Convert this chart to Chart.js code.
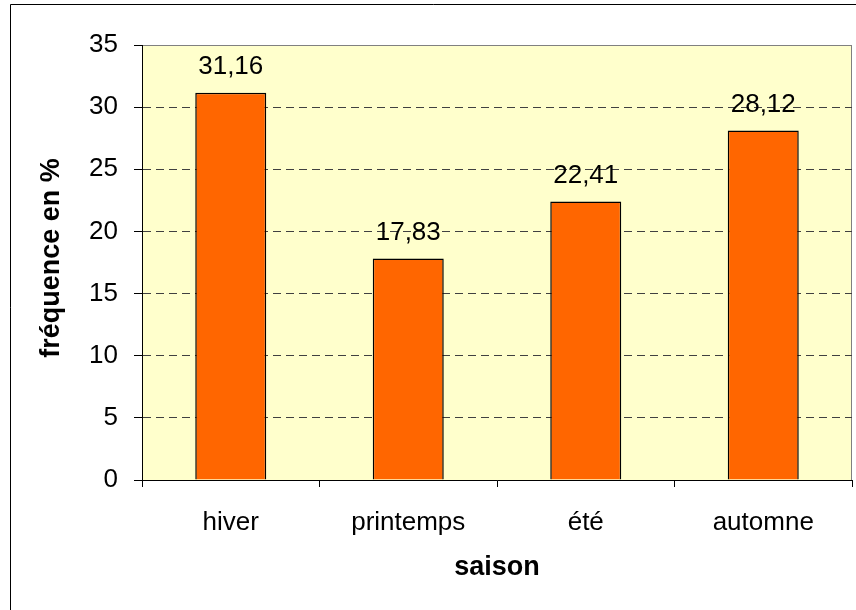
<!DOCTYPE html>
<html>
<head>
<meta charset="utf-8">
<title>fréquence par saison</title>
<script src="https://cdn.jsdelivr.net/npm/chart.js@4"></script>
<style>
  html, body { margin: 0; padding: 0; background: #fff; }
  #wrap { width: 856px; height: 610px; }
</style>
</head>
<body>
<div id="wrap"><canvas id="chart" width="856" height="610"></canvas></div>
<script>
// chart data
const seasons = ['hiver', 'printemps', 'été', 'automne'];
const freqPct = [31.16, 17.83, 22.41, 28.12];
const yTicks = [0, 5, 10, 15, 20, 25, 30, 35];

const FONT = "'Liberation Sans', Arial, sans-serif";
const fmt = v => v.toFixed(2).replace('.', ',');

// background, frame, value labels and axis titles
const decor = {
  id: 'decor',
  beforeDraw(chart) {
    const { ctx, chartArea: a } = chart;
    ctx.save();
    ctx.fillStyle = '#fff';
    ctx.fillRect(0, 0, chart.width, chart.height);
    // outer frame (only top + left visible)
    ctx.strokeStyle = '#000';
    ctx.lineWidth = 1;
    ctx.beginPath();
    ctx.moveTo(10.5, chart.height + 2);
    ctx.lineTo(10.5, 4.5);
    ctx.lineTo(chart.width + 2, 4.5);
    ctx.stroke();
    // plot area
    ctx.fillStyle = '#FFFFCC';
    ctx.fillRect(a.left, a.top, a.right - a.left, a.bottom - a.top);
    ctx.strokeStyle = '#808080';
    ctx.strokeRect(a.left + 0.5, a.top + 0.5, a.right - a.left - 1, a.bottom - a.top);
    ctx.restore();
  },
  afterDatasetsDraw(chart) {
    const { ctx } = chart;
    const meta = chart.getDatasetMeta(0);
    ctx.save();
    ctx.fillStyle = '#000';
    ctx.font = '26px ' + FONT;
    ctx.textAlign = 'center';
    ctx.textBaseline = 'middle';
    meta.data.forEach((bar, i) => {
      ctx.fillText(fmt(freqPct[i]), bar.x, bar.y - 26);
    });
    ctx.restore();
  },
  afterDraw(chart) {
    const { ctx, chartArea: a } = chart;
    ctx.save();
    ctx.fillStyle = '#000';
    ctx.font = 'bold 27px ' + FONT;
    ctx.textAlign = 'center';
    ctx.textBaseline = 'middle';
    ctx.fillText('saison', (a.left + a.right) / 2, 568);
    ctx.translate(52, 258);
    ctx.rotate(-Math.PI / 2);
    ctx.fillText('fréquence en %', 0, 0);
    ctx.restore();
  }
};

new Chart(document.getElementById('chart'), {
  type: 'bar',
  data: {
    labels: seasons,
    datasets: [{
      data: freqPct,
      backgroundColor: '#FF6600',
      borderColor: '#000',
      borderWidth: 1.5,
      categoryPercentage: 1,
      barPercentage: 0.4
    }]
  },
  options: {
    responsive: false,
    animation: false,
    layout: { padding: { top: 45, right: 4, left: 0, bottom: 0 } },
    plugins: { legend: { display: false }, tooltip: { enabled: false } },
    scales: {
      x: {
        afterFit: s => { s.height = 130; },
        grid: { offset: true, drawOnChartArea: false, tickLength: 7, tickColor: '#000', tickWidth: 1 },
        border: { color: '#000', width: 1 },
        ticks: { color: '#000', font: { family: FONT, size: 26 }, padding: 20, maxRotation: 0 }
      },
      y: {
        min: 0,
        max: 35,
        afterFit: s => { s.width = 142; },
        afterBuildTicks: s => { s.ticks = yTicks.map(v => ({ value: v })); },
        grid: {
          color: c => (c.tick && (c.tick.value === 0 || c.tick.value === 35)) ? 'rgba(0,0,0,0)' : '#404040',
          tickLength: 8, tickColor: '#000', tickWidth: 1
        },
        border: { color: '#000', width: 1, dash: [8, 5] },
        ticks: { color: '#000', font: { family: FONT, size: 26 }, padding: 16 }
      }
    }
  },
  plugins: [decor]
});
</script>
</body>
</html>
